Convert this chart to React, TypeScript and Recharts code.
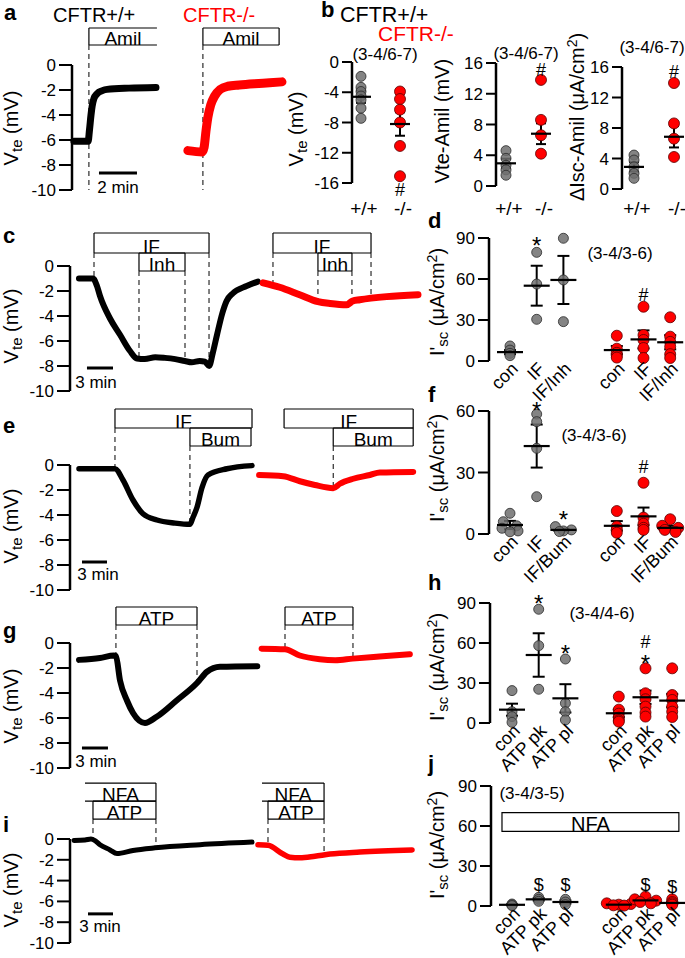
import React from 'react';
import {
  LineChart, Line, XAxis, YAxis, ReferenceLine, ReferenceArea, ReferenceDot,
  ScatterChart, Scatter, ErrorBar,
} from 'recharts';

const FONT = '"Liberation Sans", Arial, Helvetica, sans-serif';
const RED = '#ff0000';

type P = [number, number];

// ---------------- Trace data: [time (min), Vte (mV)] ----------------
const aBlack: P[] = [[0.1,-6.1],[0.85,-6.1],[0.92,-5.2],[1.0,-4.0],[1.06,-3.3],[1.15,-2.7],[1.32,-2.3],[1.6,-2.05],[1.85,-1.95],[3.0,-1.85],[4.42,-1.8]];
const aRed: P[] = [[6.1,-6.85],[6.85,-6.95],[6.95,-6.6],[7.05,-5.3],[7.15,-4.2],[7.3,-3.2],[7.5,-2.5],[7.8,-1.95],[8.2,-1.7],[8.8,-1.6],[9.6,-1.5],[10.4,-1.42],[11.05,-1.35]];

const cBlack: P[] = [[1.03,-1.0],[2.64,-1.0],[3.1,-1.6],[3.45,-2.4],[4.6,-4.2],[5.75,-5.5],[6.9,-6.8],[7.7,-7.4],[8.6,-7.45],[9.8,-7.3],[10.9,-7.35],[12.1,-7.45],[13.2,-7.6],[14.0,-7.7],[14.9,-7.6],[15.5,-7.65],[16.0,-8.0],[16.4,-7.0],[16.9,-5.5],[17.5,-3.8],[18.0,-2.8],[18.7,-2.2],[20.3,-1.6],[21.6,-1.25]];
const cRed: P[] = [[22.2,-1.35],[24.1,-1.7],[26.4,-2.3],[28.5,-2.85],[29.9,-3.0],[31.8,-3.1],[32.5,-2.8],[33.3,-2.7],[36.4,-2.45],[40.0,-2.3]];

const eBlack: P[] = [[1.08,-0.3],[5.4,-0.3],[6.36,-1.2],[7.56,-2.8],[8.76,-3.9],[10.44,-4.4],[12.6,-4.65],[14.4,-4.75],[14.76,-4.2],[15.24,-3.4],[15.85,-1.8],[16.57,-0.8],[18.85,-0.3],[21.85,-0.05]];
const eRed: P[] = [[22.7,-0.8],[25.6,-0.9],[27.6,-1.3],[29.4,-1.6],[31.6,-1.85],[32.4,-1.5],[34.0,-1.1],[36.0,-0.8],[37.2,-0.6],[41.2,-0.55]];

const gBlack: P[] = [[1.04,-1.35],[3.46,-1.2],[5.07,-1.0],[5.3,-1.05],[5.77,-3.0],[6.57,-4.6],[7.27,-5.6],[8.65,-6.4],[10.0,-5.9],[12.3,-4.6],[14.65,-3.2],[15.8,-2.3],[17.3,-1.9],[21.6,-1.85]];
const gRed: P[] = [[22.1,-0.45],[24.8,-0.5],[26.5,-1.0],[28.8,-1.3],[30.6,-1.38],[32.6,-1.25],[35.7,-1.08],[39.2,-0.9]];

const iBlack: P[] = [[0.48,-0.15],[1.8,-0.1],[2.52,0.0],[3.0,-0.15],[3.6,-0.55],[4.8,-1.05],[5.64,-1.4],[7.56,-1.1],[10.2,-0.85],[15.6,-0.55],[21.85,-0.3]];
const iRed: P[] = [[22.57,-0.55],[23.77,-0.6],[25.57,-1.45],[26.4,-1.75],[27.6,-1.8],[29.4,-1.65],[31.2,-1.45],[34.8,-1.25],[41.06,-1.05]];

// drug application periods (min)
interface Drug { t1: number; t2: number; row: number; label: string; openL?: boolean; openR?: boolean }
interface Dash { t: number; row: number; v: number }
const aDrugs: Drug[] = [{ t1: 0.89, t2: 4.47, row: 0, label: 'Amil', openR: true }, { t1: 6.89, t2: 10.9, row: 0, label: 'Amil' }];
const aDashes: Dash[] = [{ t: 0.89, row: 0, v: -10 }, { t: 6.89, row: 0, v: -10 }];
const cDrugs: Drug[] = [{ t1: 2.76, t2: 15.98, row: 0, label: 'IF' }, { t1: 7.93, t2: 13.22, row: 1, label: 'Inh' }, { t1: 23.33, t2: 34.6, row: 0, label: 'IF' }, { t1: 28.5, t2: 32.41, row: 1, label: 'Inh' }];
const cDashes: Dash[] = [{ t: 2.76, row: 0, v: -0.9 }, { t: 7.93, row: 1, v: -7.4 }, { t: 13.22, row: 1, v: -7.6 }, { t: 15.98, row: 0, v: -7.9 }, { t: 23.33, row: 0, v: -1.5 }, { t: 28.5, row: 1, v: -2.8 }, { t: 32.41, row: 1, v: -2.8 }, { t: 34.6, row: 0, v: -2.6 }];
const eDrugs: Drug[] = [{ t1: 5.4, t2: 21.85, row: 0, label: 'IF' }, { t1: 14.4, t2: 21.73, row: 1, label: 'Bum' }, { t1: 25.7, t2: 41.2, row: 0, label: 'IF' }, { t1: 31.6, t2: 41.2, row: 1, label: 'Bum' }];
const eDashes: Dash[] = [{ t: 5.4, row: 0, v: -0.3 }, { t: 14.4, row: 1, v: -4.8 }, { t: 31.6, row: 1, v: -1.8 }];
const gDrugs: Drug[] = [{ t1: 5.3, t2: 14.65, row: 0, label: 'ATP' }, { t1: 24.8, t2: 32.64, row: 0, label: 'ATP' }];
const gDashes: Dash[] = [{ t: 5.3, row: 0, v: -1.0 }, { t: 14.65, row: 0, v: -3.1 }, { t: 24.8, row: 0, v: -0.5 }, { t: 32.64, row: 0, v: -1.3 }];
const iDrugs: Drug[] = [{ t1: 1.8, t2: 10.32, row: 0, label: 'NFA', openL: true }, { t1: 2.76, t2: 10.32, row: 1, label: 'ATP' }, { t1: 23.05, t2: 30.5, row: 0, label: 'NFA', openL: true }, { t1: 23.77, t2: 30.5, row: 1, label: 'ATP' }];
const iDashes: Dash[] = [{ t: 2.76, row: 1, v: -0.1 }, { t: 10.32, row: 1, v: -0.9 }, { t: 23.77, row: 1, v: -0.6 }, { t: 30.5, row: 1, v: -1.5 }];

const vteTicks = [0, -2, -4, -6, -8, -10];

// ---------------- Dot-plot data ----------------
interface Group { x: number; vals: number[]; jit?: number[]; mean: number; sem: number }
interface Ann { x: number; y: number; text: string }

const b1Gray: Group[] = [{ x: 1, vals: [-1.9, -3.35, -3.9, -4.5, -5.0, -6.1, -7.45], mean: -4.6, sem: 0.8 }];
const b1Red: Group[] = [{ x: 2, vals: [-3.9, -4.9, -6.3, -8.0, -11.1, -15.1], mean: -8.2, sem: 1.55 }];
const b1Ann: Ann[] = [{ x: 2, y: -16.9, text: '#' }];
const b2Gray: Group[] = [{ x: 1, vals: [4.6, 3.6, 2.7, 2.1, 1.4], mean: 2.95, sem: 0.6 }];
const b2Red: Group[] = [{ x: 2, vals: [13.8, 8.6, 6.6, 4.2], mean: 6.8, sem: 1.35 }];
const b2Ann: Ann[] = [{ x: 2, y: 15.2, text: '#' }];
const b3Gray: Group[] = [{ x: 1, vals: [4.45, 3.8, 2.9, 2.05, 1.4], mean: 2.9, sem: 0.6 }];
const b3Red: Group[] = [{ x: 2, vals: [13.9, 8.6, 6.6, 4.2], mean: 6.85, sem: 1.4 }];
const b3Ann: Ann[] = [{ x: 2, y: 15.35, text: '#' }];
const bLabels = [{ x: 1, text: '+/+' }, { x: 2, text: '-/-' }];

const dGray: Group[] = [
  { x: 1, vals: [11, 8, 5.6, 3.9], mean: 6.5, sem: 1.5 },
  { x: 2, vals: [79.5, 56.3, 30.5], mean: 55.1, sem: 14.6 },
  { x: 3, vals: [89.8, 59.3, 28.8], mean: 59.3, sem: 17.6 },
];
const dRed: Group[] = [
  { x: 5, vals: [18.5, 9, 6, 4, 2.5], mean: 8, sem: 3 },
  { x: 6, vals: [39.7, 19, 15.4, 9.5, 2.2], mean: 15.8, sem: 6.6 },
  { x: 7, vals: [32, 17.8, 14, 10.5, 5, 2.2], mean: 13.7, sem: 5.2 },
];
const dAnn: Ann[] = [{ x: 2, y: 89.3, text: '*' }, { x: 6, y: 49, text: '#' }];
const dLabels = [{ x: 1, text: 'con' }, { x: 2, text: 'IF' }, { x: 3, text: 'IF/Inh' }, { x: 5, text: 'con' }, { x: 6, text: 'IF' }, { x: 7, text: 'IF/Inh' }];

const fGray: Group[] = [
  { x: 1, vals: [10.1, 6, 4, 2.8, 1.5, 1.1], jit: [0, -0.25, 0.25, -0.3, 0.3, 0], mean: 4.4, sem: 2.0 },
  { x: 2, vals: [58.5, 54.8, 41.8, 18.2], mean: 42.9, sem: 10.5 },
  { x: 3, vals: [3.6, 2, 1.5, 1.2], jit: [-0.3, 0.3, 0, -0.15], mean: 2, sem: 0.6 },
];
const fRed: Group[] = [
  { x: 5, vals: [11.2, 3.6, 2, 0.6], mean: 4, sem: 2.3 },
  { x: 6, vals: [25, 8, 5, 3, 2], mean: 8.6, sem: 4.3 },
  { x: 7, vals: [7.2, 4, 3, 2, 1], jit: [0, -0.3, 0.3, -0.2, 0.2], mean: 3, sem: 1 },
];
const fAnn: Ann[] = [{ x: 2, y: 63.4, text: '*' }, { x: 3, y: 10.1, text: '*' }, { x: 6, y: 32.8, text: '#' }];
const fLabels = [{ x: 1, text: 'con' }, { x: 2, text: 'IF' }, { x: 3, text: 'IF/Bum' }, { x: 5, text: 'con' }, { x: 6, text: 'IF' }, { x: 7, text: 'IF/Bum' }];

const hGray: Group[] = [
  { x: 1, vals: [24.3, 8.5, 4.8, 0.5], mean: 10, sem: 4.5 },
  { x: 2, vals: [85.3, 58, 25.3], mean: 51, sem: 16.3 },
  { x: 3, vals: [48, 14.8, 8.5, 2.3], mean: 18.5, sem: 10.6 },
];
const hRed: Group[] = [
  { x: 5, vals: [19.8, 10, 7, 4, 2, 1], mean: 7.3, sem: 2.8 },
  { x: 6, vals: [41, 22.3, 17.8, 12.3, 7.8, 4.8], mean: 19.3, sem: 5 },
  { x: 7, vals: [41, 21, 17.3, 12.3, 8.5, 4.5], mean: 16.8, sem: 5 },
];
const hAnn: Ann[] = [{ x: 2, y: 94.3, text: '*' }, { x: 3, y: 56.8, text: '*' }, { x: 6, y: 61, text: '#' }, { x: 6, y: 49.7, text: '*' }];
const atpLabels = [{ x: 1, text: 'con' }, { x: 2, text: 'ATP pk' }, { x: 3, text: 'ATP pl' }, { x: 5, text: 'con' }, { x: 6, text: 'ATP pk' }, { x: 7, text: 'ATP pl' }];

const jGray: Group[] = [
  { x: 1, vals: [1.5, 0.8, 0.3], mean: 0.9, sem: 0.3 },
  { x: 2, vals: [6.5, 5, 3.5], mean: 5, sem: 0.9 },
  { x: 3, vals: [5, 3, 1], mean: 3, sem: 1.2 },
];
const jRed: Group[] = [
  { x: 5, vals: [2, 1.5, 1, 0.5, 0.3], jit: [-0.45, 0.45, 0, -0.2, 0.2], mean: 1, sem: 0.35 },
  { x: 6, vals: [7, 5, 4, 3, 2], jit: [0, -0.4, 0.4, -0.2, 0.2], mean: 4.2, sem: 0.9 },
  { x: 7, vals: [5, 3, 2, 1], mean: 2.3, sem: 0.9 },
];
const jAnn: Ann[] = [{ x: 2, y: 15.75, text: '$' }, { x: 3, y: 15.75, text: '$' }, { x: 6, y: 15.75, text: '$' }, { x: 7, y: 14.5, text: '$' }];

// ---------------- Trace panel ----------------
interface TraceCfg {
  top: number; axisX: number; y0: number; k: number; ppm: number; tMax: number;
  black: P[]; red: P[]; bw: number; rw: number;
  rows: [number, number][]; drugs: Drug[]; dashes: Dash[];
  bar: [number, number, number];
}

function TracePanel({ c }: { c: TraceCfg }) {
  const y10 = c.y0 + 10 * c.k;
  const width = c.axisX + c.tMax * c.ppm + 3;
  const height = y10 + 14 - c.top;
  const toData = (arr: P[]) => arr.map(([t, v]) => ({ t, v }));
  const seg = (key: string, x1: number, y1: number, x2: number, y2: number, extra: any = {}) => (
    <ReferenceLine key={key} segment={[{ x: x1, y: y1 }, { x: x2, y: y2 }]} stroke="#000" strokeWidth={1.2} ifOverflow="visible" {...extra} />
  );
  const els: any[] = [];
  c.drugs.forEach((d, i) => {
    const [top, bot] = c.rows[d.row];
    els.push(seg(`bt${i}`, d.t1, top, d.t2, top));
    els.push(seg(`bb${i}`, d.t1, bot, d.t2, bot));
    if (!d.openL) els.push(seg(`bl${i}`, d.t1, top, d.t1, bot));
    if (!d.openR) els.push(seg(`br${i}`, d.t2, top, d.t2, bot));
    els.push(
      <ReferenceArea key={`ba${i}`} x1={d.t1} x2={d.t2} y1={bot} y2={top} fill="none" stroke="none" ifOverflow="visible"
        label={{ value: d.label, position: 'insideBottom', offset: 0, fontSize: 19, fill: '#000' }} />
    );
  });
  c.dashes.forEach((d, i) => {
    els.push(seg(`d${i}`, d.t, c.rows[d.row][1], d.t, d.v, { strokeDasharray: '5 4', strokeWidth: 1 }));
  });
  els.push(seg('bar', c.bar[0], c.bar[2], c.bar[1], c.bar[2], { strokeWidth: 3 }));
  return (
    <div style={{ position: 'absolute', left: 0, top: c.top }}>
      <LineChart width={width} height={height} margin={{ top: c.y0 - c.top, right: 3, bottom: 14, left: 0 }}>
        <XAxis type="number" dataKey="t" domain={[0, c.tMax]} hide />
        <YAxis type="number" domain={[-10, 0]} ticks={vteTicks} interval={0} width={c.axisX}
          tickSize={13} tickMargin={3}
          axisLine={{ stroke: '#000', strokeWidth: 2.5 }}
          tickLine={{ stroke: '#000', strokeWidth: 2 }}
          tick={{ fill: '#000', fontSize: 17 }} />
        {els}
        <Line data={toData(c.black)} dataKey="v" type="monotone" stroke="#000" strokeWidth={c.bw}
          dot={false} isAnimationActive={false} strokeLinecap="round" strokeLinejoin="round" />
        <Line data={toData(c.red)} dataKey="v" type="monotone" stroke={RED} strokeWidth={c.rw}
          dot={false} isAnimationActive={false} strokeLinecap="round" strokeLinejoin="round" />
      </LineChart>
    </div>
  );
}

const traceA: TraceCfg = { top: 0, axisX: 72, y0: 65, k: 12.5, ppm: 19, tMax: 11.5, black: aBlack, red: aRed, bw: 7, rw: 9, rows: [[2.96, 1.6]], drugs: aDrugs, dashes: aDashes, bar: [1.42, 3.42, -8.64] };
const traceC: TraceCfg = { top: 200, axisX: 70, y0: 266, k: 12.5, ppm: 8.7, tMax: 40.6, black: cBlack, red: cRed, bw: 6, rw: 7, rows: [[2.64, 1.04], [1.04, -0.4]], drugs: cDrugs, dashes: cDashes, bar: [1.95, 4.94, -8.16] };
const traceE: TraceCfg = { top: 395, axisX: 70, y0: 465, k: 12.5, ppm: 8.33, tMax: 41.5, black: eBlack, red: eRed, bw: 5.5, rw: 6, rows: [[4.48, 2.96], [2.96, 1.52]], drugs: eDrugs, dashes: eDashes, bar: [1.44, 4.44, -7.76] };
const traceG: TraceCfg = { top: 590, axisX: 70, y0: 643, k: 12.5, ppm: 8.67, tMax: 39.5, black: gBlack, red: gRed, bw: 6, rw: 6, rows: [[2.88, 1.44]], drugs: gDrugs, dashes: gDashes, bar: [1.38, 4.38, -8.4] };
const traceI: TraceCfg = { top: 770, axisX: 70, y0: 839, k: 10.4, ppm: 8.33, tMax: 41.3, black: iBlack, red: iRed, bw: 5, rw: 5.5, rows: [[5.38, 3.65], [3.65, 1.92]], drugs: iDrugs, dashes: iDashes, bar: [2.16, 5.16, -7.2] };

// ---------------- Dot panel ----------------
interface DotCfg {
  L: number; T: number; W: number; H: number; axisX: number; yTop: number; yBot: number;
  yMin: number; yMax: number; ticks: number[]; x1: number; ppu: number;
  gray: Group[]; red: Group[]; labels: { x: number; text: string }[]; rotate: boolean; ann: Ann[];
  rg: number; rr: number; hw: number; cap: number; tickLen: number;
  box?: { x1: number; x2: number; y1: number; y2: number; label: string };
}

function DotPanel({ c }: { c: DotCfg }) {
  const xMin = 1 - (c.x1 - c.axisX) / c.ppu;
  const plotW = c.L + c.W - c.axisX;
  const xMax = xMin + plotW / c.ppu;
  const pts = (gs: Group[]) => gs.flatMap((g) => g.vals.map((v, i) => ({ x: g.x + (g.jit ? g.jit[i] : 0), y: v })));
  const means = [...c.gray, ...c.red].map((g) => ({ x: g.x, y: g.mean, err: g.sem }));
  const grayDot = (p: any) => <circle cx={p.cx} cy={p.cy} r={c.rg} fill="#6f6f6f" fillOpacity={0.85} stroke="#2a2a2a" strokeWidth={0.8} />;
  const redDot = (p: any) => <circle cx={p.cx} cy={p.cy} r={c.rr} fill={RED} stroke="#5a0000" strokeWidth={0.8} />;
  const meanLine = (p: any) => <line x1={p.cx - c.hw} x2={p.cx + c.hw} y1={p.cy} y2={p.cy} stroke="#000" strokeWidth={2.2} />;
  const tick = (p: any) => {
    const v = p.payload.value;
    const lab = c.labels.find((l) => Math.abs(l.x - v) < 1e-6);
    const text = lab ? lab.text : '';
    if (c.rotate) {
      const ax = p.x + 9;
      const ay = p.y + 9;
      return <text x={ax} y={ay} transform={`rotate(-45 ${ax} ${ay})`} textAnchor="end" fontSize={18} fill="#000" fontFamily={FONT}>{text}</text>;
    }
    return <text x={p.x + 3} y={p.y + (215 - c.yBot)} textAnchor="middle" fontSize={19} fill="#000" fontFamily={FONT}>{text}</text>;
  };
  const annK: Record<string, number> = { '*': 0.62, '#': 0.36, '$': 0.36 };
  const annS: Record<string, number> = { '*': 24, '#': 18, '$': 18 };
  return (
    <div style={{ position: 'absolute', left: c.L, top: c.T }}>
      <ScatterChart width={c.W} height={c.H} margin={{ top: c.yTop - c.T, right: 0, bottom: 0, left: 0 }}>
        <XAxis type="number" dataKey="x" domain={[xMin, xMax]} ticks={c.labels.map((l) => l.x)} interval={0}
          tickLine={false} axisLine={false} tickSize={0} tickMargin={0} height={c.T + c.H - c.yBot} tick={tick} />
        <YAxis type="number" dataKey="y" domain={[c.yMin, c.yMax]} ticks={c.ticks} interval={0} width={c.axisX - c.L}
          tickSize={c.tickLen} tickMargin={3}
          axisLine={{ stroke: '#000', strokeWidth: 2.5 }}
          tickLine={{ stroke: '#000', strokeWidth: 2 }}
          tick={{ fill: '#000', fontSize: 17 }} />
        {c.box ? (
          <ReferenceArea x1={c.box.x1} x2={c.box.x2} y1={c.box.y1} y2={c.box.y2} fill="#fff" stroke="#000" strokeWidth={1.2}
            ifOverflow="visible" label={{ value: c.box.label, position: 'insideBottom', offset: 0, fontSize: 20, fill: '#000' }} />
        ) : null}
        <Scatter data={pts(c.gray)} shape={grayDot} isAnimationActive={false} />
        <Scatter data={pts(c.red)} shape={redDot} isAnimationActive={false} />
        <Scatter data={means} shape={meanLine} isAnimationActive={false}>
          <ErrorBar dataKey="err" direction="y" width={c.cap} stroke="#000" strokeWidth={2} isAnimationActive={false} />
        </Scatter>
        {c.ann.map((a, i) => (
          <ReferenceDot key={i} x={a.x} y={a.y} r={0} ifOverflow="visible"
            shape={(p: any) => (
              <text x={p.cx} y={p.cy + annK[a.text] * annS[a.text]} textAnchor="middle" fontSize={annS[a.text]} fill="#000" fontFamily={FONT}>{a.text}</text>
            )} />
        ))}
      </ScatterChart>
    </div>
  );
}

const dotB1: DotCfg = { L: 300, T: 40, W: 125, H: 185, axisX: 352, yTop: 62, yBot: 183, yMin: -16, yMax: 0, ticks: [0, -4, -8, -12, -16], x1: 361, ppu: 39, gray: b1Gray, red: b1Red, labels: bLabels, rotate: false, ann: b1Ann, rg: 5, rr: 5.5, hw: 10, cap: 5, tickLen: 10 };
const dotB2: DotCfg = { L: 455, T: 40, W: 110, H: 185, axisX: 496, yTop: 63, yBot: 186, yMin: 0, yMax: 16, ticks: [0, 4, 8, 12, 16], x1: 506, ppu: 35, gray: b2Gray, red: b2Red, labels: bLabels, rotate: false, ann: b2Ann, rg: 5, rr: 5.5, hw: 10, cap: 5, tickLen: 10 };
const dotB3: DotCfg = { L: 585, T: 40, W: 100, H: 185, axisX: 622, yTop: 67, yBot: 189, yMin: 0, yMax: 16, ticks: [0, 4, 8, 12, 16], x1: 634, ppu: 40, gray: b3Gray, red: b3Red, labels: bLabels, rotate: false, ann: b3Ann, rg: 5, rr: 5.5, hw: 10, cap: 5, tickLen: 10 };
const dotD: DotCfg = { L: 440, T: 215, W: 245, H: 205, axisX: 489, yTop: 238, yBot: 361, yMin: 0, yMax: 90, ticks: [0, 30, 60, 90], x1: 510, ppu: 26.7, gray: dGray, red: dRed, labels: dLabels, rotate: true, ann: dAnn, rg: 5, rr: 5.5, hw: 13, cap: 6, tickLen: 11 };
const dotF: DotCfg = { L: 440, T: 395, W: 245, H: 210, axisX: 489, yTop: 411, yBot: 534, yMin: 0, yMax: 60, ticks: [0, 30, 60], x1: 510, ppu: 26.7, gray: fGray, red: fRed, labels: fLabels, rotate: true, ann: fAnn, rg: 5, rr: 5.5, hw: 13, cap: 6, tickLen: 11 };
const dotH: DotCfg = { L: 440, T: 575, W: 245, H: 210, axisX: 490, yTop: 603, yBot: 723, yMin: 0, yMax: 90, ticks: [0, 30, 60, 90], x1: 512, ppu: 26.7, gray: hGray, red: hRed, labels: atpLabels, rotate: true, ann: hAnn, rg: 5, rr: 5.5, hw: 13, cap: 6, tickLen: 11 };
const dotJ: DotCfg = { L: 440, T: 755, W: 245, H: 203, axisX: 491, yTop: 786, yBot: 906, yMin: 0, yMax: 90, ticks: [0, 30, 60, 90], x1: 512, ppu: 26.7, gray: jGray, red: jRed, labels: atpLabels, rotate: true, ann: jAnn, rg: 5, rr: 5.5, hw: 13, cap: 6, tickLen: 11, box: { x1: 0.625, x2: 7.25, y1: 56, y2: 70, label: 'NFA' } };

// ---------------- Text overlay ----------------
function VLabel({ x, y, kind }: { x: number; y: number; kind: string }) {
  let content: any;
  if (kind === 'vte') content = <>V<tspan dy={4} fontSize={15}>te</tspan><tspan dy={-4}> (mV)</tspan></>;
  else if (kind === 'vamil') content = <>Vte-Amil (mV)</>;
  else if (kind === 'damil') content = <>ΔIsc-Amil (μA/cm<tspan dy={-7} fontSize={14}>2</tspan><tspan dy={7}>)</tspan></>;
  else content = <>I'<tspan dy={4} fontSize={15}>sc</tspan><tspan dy={-4}> (μA/cm</tspan><tspan dy={-7} fontSize={14}>2</tspan><tspan dy={7}>)</tspan></>;
  return <text transform={`translate(${x},${y}) rotate(-90)`} textAnchor="middle" fontSize={20} fill="#000">{content}</text>;
}

function Overlay() {
  const B = (x: number, y: number, s: string) => <text x={x} y={y} fontSize={22} fontWeight="bold" fill="#000">{s}</text>;
  const N = (x: number, y: number, s: string) => <text x={x} y={y} fontSize={17} textAnchor="middle" fill="#000">{s}</text>;
  return (
    <svg width={685} height={958} style={{ position: 'absolute', left: 0, top: 0, pointerEvents: 'none' }} fontFamily={FONT}>
      {B(4, 20, 'a')}{B(321, 17, 'b')}{B(3, 243, 'c')}{B(428, 228, 'd')}{B(3, 433, 'e')}
      {B(428, 402, 'f')}{B(3, 638, 'g')}{B(428, 590, 'h')}{B(3, 832, 'i')}{B(428, 771, 'j')}
      <text x={53} y={22} fontSize={20} fill="#000">CFTR+/+</text>
      <text x={183} y={22} fontSize={20} fill={RED}>CFTR-/-</text>
      <text x={340} y={22} fontSize={21.5} fill="#000">CFTR+/+</text>
      <text x={378} y={41} fontSize={21} fill={RED}>CFTR-/-</text>
      {N(385, 60, '(3-4/6-7)')}{N(526, 59, '(3-4/6-7)')}{N(652, 53, '(3-4/6-7)')}
      {N(620, 259, '(3-4/3-6)')}{N(594, 441, '(3-4/3-6)')}{N(602, 619, '(3-4/4-6)')}{N(532, 799, '(3-4/3-5)')}
      {N(118, 193, '2 min')}{N(96, 388, '3 min')}{N(98, 580, '3 min')}{N(96, 767, '3 min')}{N(100, 932, '3 min')}
      <VLabel x={18} y={128} kind="vte" />
      <VLabel x={303} y={129} kind="vte" />
      <VLabel x={449} y={121} kind="vamil" />
      <VLabel x={584} y={117} kind="damil" />
      <VLabel x={18} y={326} kind="vte" />
      <VLabel x={18} y={526} kind="vte" />
      <VLabel x={18} y={706} kind="vte" />
      <VLabel x={18} y={890} kind="vte" />
      <VLabel x={444} y={302} kind="isc" />
      <VLabel x={444} y={468} kind="isc" />
      <VLabel x={444} y={667} kind="isc" />
      <VLabel x={444} y={845} kind="isc" />
    </svg>
  );
}

export default function App() {
  return (
    <div style={{ position: 'absolute', left: 0, top: 0, width: 685, height: 958, background: '#fff', fontFamily: FONT, overflow: 'hidden' }}>
      <TracePanel c={traceA} />
      <TracePanel c={traceC} />
      <TracePanel c={traceE} />
      <TracePanel c={traceG} />
      <TracePanel c={traceI} />
      <DotPanel c={dotB1} />
      <DotPanel c={dotB2} />
      <DotPanel c={dotB3} />
      <DotPanel c={dotD} />
      <DotPanel c={dotF} />
      <DotPanel c={dotH} />
      <DotPanel c={dotJ} />
      <Overlay />
    </div>
  );
}
